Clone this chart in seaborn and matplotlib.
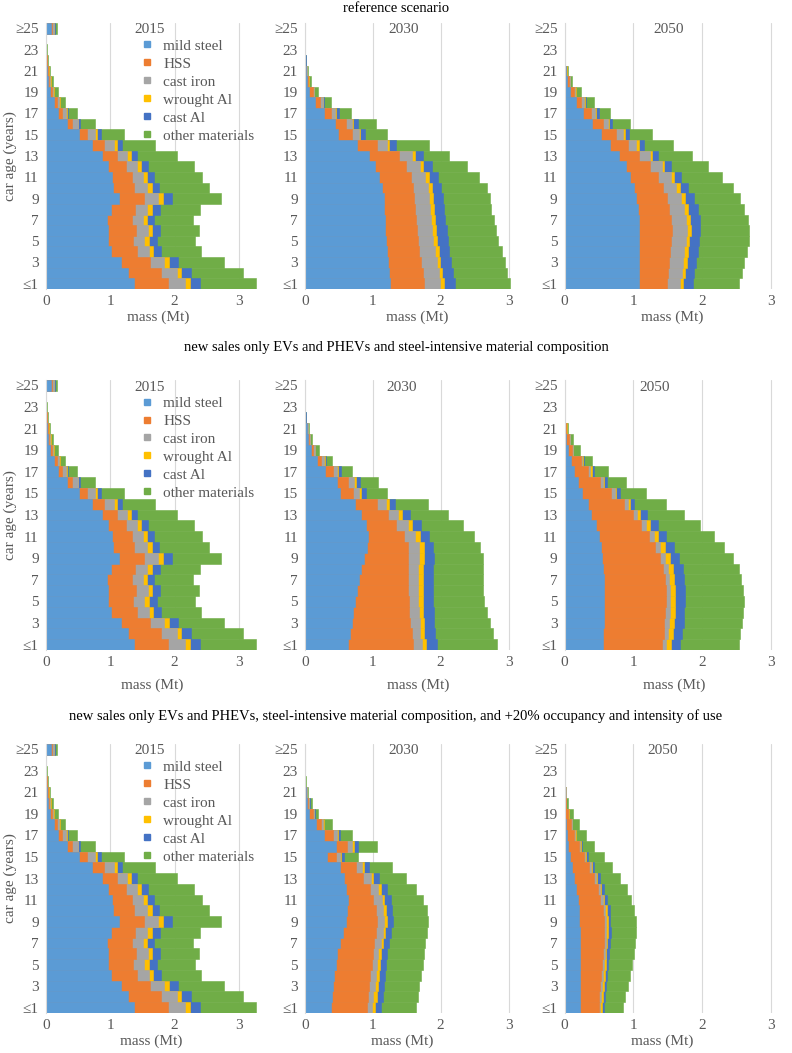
import pandas as pd
import matplotlib
matplotlib.use("Agg")
import matplotlib.pyplot as plt
from matplotlib.lines import Line2D
import seaborn as sns

# car ages, bottom to top
ages = ["≤1"] + [str(a) for a in range(2, 25)] + ["≥25"]
shown_ages = ["≤1"] + [str(a) for a in range(3, 24, 2)] + ["≥25"]

materials = ["mild steel", "HSS", "cast iron", "wrought Al", "cast Al", "other materials"]
colors = ["#5B9BD5", "#ED7D31", "#A5A5A5", "#FFC000", "#4472C4", "#70AD47"]

row_titles = [
    "reference scenario",
    "new sales only EVs and PHEVs and steel-intensive material composition",
    "new sales only EVs and PHEVs, steel-intensive material composition, and +20% occupancy and intensity of use",
]
years = ["2015", "2030", "2050"]

# cumulative mass (Mt) at the right edge of each material, age ≤1 ... ≥25
stock_2015 = [
    [1.376, 1.904, 2.162, 2.240, 2.395, 3.264],
    [1.283, 1.790, 2.033, 2.106, 2.256, 3.057],
    [1.164, 1.619, 1.842, 1.919, 2.049, 2.768],
    [1.014, 1.412, 1.604, 1.671, 1.790, 2.411],
    [0.973, 1.361, 1.531, 1.604, 1.723, 2.318],
    [0.973, 1.402, 1.583, 1.655, 1.774, 2.385],
    [0.947, 1.335, 1.516, 1.578, 1.687, 2.282],
    [1.009, 1.386, 1.568, 1.645, 1.774, 2.395],
    [1.138, 1.526, 1.738, 1.826, 1.966, 2.716],
    [1.050, 1.376, 1.568, 1.645, 1.764, 2.535],
    [1.035, 1.335, 1.505, 1.568, 1.681, 2.431],
    [0.973, 1.247, 1.423, 1.480, 1.593, 2.307],
    [0.869, 1.102, 1.267, 1.319, 1.412, 2.033],
    [0.724, 0.910, 1.066, 1.102, 1.180, 1.697],
    [0.517, 0.647, 0.766, 0.802, 0.854, 1.216],
    [0.326, 0.414, 0.497, 0.507, 0.533, 0.766],
    [0.197, 0.259, 0.316, 0.326, 0.341, 0.491],
    [0.135, 0.181, 0.212, 0.217, 0.228, 0.300],
    [0.067, 0.093, 0.119, 0.124, 0.129, 0.197],
    [0.041, 0.057, 0.072, 0.078, 0.083, 0.119],
    [0.021, 0.031, 0.041, 0.044, 0.047, 0.067],
    [0.010, 0.016, 0.021, 0.022, 0.024, 0.036],
    [0.005, 0.008, 0.010, 0.011, 0.012, 0.020],
    [0.003, 0.004, 0.005, 0.005, 0.006, 0.010],
    [0.078, 0.093, 0.129, 0.134, 0.140, 0.171],
]

ref_2030 = [
    [1.257, 1.758, 1.993, 2.042, 2.214, 3.019],
    [1.232, 1.733, 1.969, 2.018, 2.175, 2.985],
    [1.217, 1.708, 1.939, 1.993, 2.150, 2.950],
    [1.203, 1.684, 1.915, 1.969, 2.126, 2.901],
    [1.193, 1.659, 1.890, 1.944, 2.101, 2.852],
    [1.183, 1.645, 1.870, 1.929, 2.086, 2.813],
    [1.178, 1.635, 1.856, 1.915, 2.067, 2.779],
    [1.168, 1.620, 1.841, 1.895, 2.052, 2.749],
    [1.159, 1.610, 1.821, 1.880, 2.028, 2.730],
    [1.134, 1.596, 1.807, 1.866, 2.003, 2.690],
    [1.085, 1.561, 1.772, 1.821, 1.954, 2.568],
    [1.036, 1.487, 1.694, 1.743, 1.870, 2.381],
    [0.947, 1.389, 1.576, 1.625, 1.743, 2.126],
    [0.761, 1.056, 1.208, 1.242, 1.340, 1.821],
    [0.491, 0.692, 0.790, 0.815, 0.889, 1.203],
    [0.447, 0.604, 0.687, 0.712, 0.776, 1.046],
    [0.275, 0.383, 0.447, 0.461, 0.506, 0.677],
    [0.147, 0.226, 0.260, 0.270, 0.285, 0.383],
    [0.064, 0.113, 0.128, 0.133, 0.137, 0.187],
    [0.025, 0.039, 0.049, 0.052, 0.054, 0.088],
    [0.010, 0.020, 0.025, 0.029, 0.032, 0.039],
    [0.003, 0.005, 0.006, 0.007, 0.008, 0.012],
    [0, 0, 0, 0, 0, 0],
    [0, 0, 0, 0, 0, 0],
    [0, 0, 0, 0, 0, 0],
]

ref_2050 = [
    [1.079, 1.483, 1.677, 1.726, 1.862, 2.538],
    [1.084, 1.497, 1.701, 1.750, 1.881, 2.577],
    [1.084, 1.517, 1.726, 1.774, 1.911, 2.611],
    [1.084, 1.531, 1.740, 1.789, 1.935, 2.650],
    [1.084, 1.541, 1.760, 1.808, 1.954, 2.674],
    [1.079, 1.556, 1.774, 1.833, 1.969, 2.684],
    [1.079, 1.541, 1.760, 1.823, 1.969, 2.664],
    [1.070, 1.522, 1.736, 1.799, 1.935, 2.611],
    [1.045, 1.483, 1.692, 1.750, 1.881, 2.552],
    [1.006, 1.434, 1.619, 1.677, 1.799, 2.441],
    [0.948, 1.351, 1.541, 1.595, 1.692, 2.285],
    [0.890, 1.240, 1.410, 1.449, 1.541, 2.090],
    [0.788, 1.079, 1.240, 1.274, 1.351, 1.847],
    [0.666, 0.924, 1.045, 1.079, 1.157, 1.570],
    [0.535, 0.744, 0.851, 0.875, 0.933, 1.264],
    [0.404, 0.559, 0.632, 0.647, 0.695, 0.948],
    [0.267, 0.389, 0.438, 0.452, 0.496, 0.666],
    [0.160, 0.243, 0.282, 0.292, 0.306, 0.423],
    [0.083, 0.136, 0.156, 0.160, 0.170, 0.243],
    [0.034, 0.063, 0.073, 0.075, 0.078, 0.112],
    [0.015, 0.024, 0.029, 0.032, 0.034, 0.049],
    [0.003, 0.005, 0.006, 0.007, 0.008, 0.012],
    [0, 0, 0, 0, 0, 0],
    [0, 0, 0, 0, 0, 0],
    [0, 0, 0, 0, 0, 0],
]

ev_2030 = [
    [0.637, 1.593, 1.725, 1.784, 1.946, 2.828],
    [0.662, 1.578, 1.701, 1.760, 1.922, 2.770],
    [0.686, 1.554, 1.691, 1.750, 1.907, 2.721],
    [0.711, 1.539, 1.676, 1.740, 1.897, 2.681],
    [0.735, 1.529, 1.667, 1.735, 1.887, 2.642],
    [0.770, 1.520, 1.667, 1.735, 1.887, 2.623],
    [0.794, 1.515, 1.662, 1.735, 1.887, 2.618],
    [0.828, 1.515, 1.667, 1.740, 1.887, 2.618],
    [0.868, 1.520, 1.676, 1.750, 1.897, 2.623],
    [0.907, 1.515, 1.676, 1.750, 1.887, 2.574],
    [0.926, 1.456, 1.627, 1.701, 1.824, 2.485],
    [0.892, 1.348, 1.515, 1.578, 1.711, 2.328],
    [0.819, 1.225, 1.373, 1.431, 1.544, 2.103],
    [0.735, 1.064, 1.196, 1.245, 1.333, 1.809],
    [0.510, 0.706, 0.794, 0.819, 0.902, 1.211],
    [0.466, 0.632, 0.721, 0.745, 0.804, 1.078],
    [0.294, 0.417, 0.466, 0.485, 0.525, 0.696],
    [0.172, 0.240, 0.279, 0.289, 0.304, 0.402],
    [0.083, 0.118, 0.142, 0.147, 0.152, 0.206],
    [0.039, 0.059, 0.069, 0.074, 0.078, 0.108],
    [0.025, 0.034, 0.039, 0.044, 0.047, 0.059],
    [0.003, 0.005, 0.006, 0.007, 0.008, 0.012],
    [0, 0, 0, 0, 0, 0],
    [0, 0, 0, 0, 0, 0],
    [0, 0, 0, 0, 0, 0],
]

ev_2050 = [
    [0.557, 1.415, 1.473, 1.546, 1.682, 2.530],
    [0.562, 1.440, 1.497, 1.570, 1.706, 2.555],
    [0.567, 1.449, 1.512, 1.585, 1.730, 2.579],
    [0.572, 1.464, 1.527, 1.600, 1.740, 2.594],
    [0.577, 1.473, 1.536, 1.609, 1.755, 2.603],
    [0.577, 1.473, 1.536, 1.609, 1.755, 2.594],
    [0.572, 1.454, 1.522, 1.594, 1.740, 2.564],
    [0.562, 1.430, 1.503, 1.575, 1.721, 2.530],
    [0.548, 1.381, 1.454, 1.527, 1.658, 2.448],
    [0.529, 1.318, 1.391, 1.464, 1.585, 2.322],
    [0.504, 1.222, 1.294, 1.357, 1.479, 2.176],
    [0.460, 1.110, 1.183, 1.245, 1.352, 1.973],
    [0.388, 0.989, 1.052, 1.100, 1.197, 1.740],
    [0.334, 0.858, 0.916, 0.955, 1.013, 1.474],
    [0.252, 0.679, 0.727, 0.751, 0.809, 1.187],
    [0.194, 0.509, 0.553, 0.577, 0.616, 0.897],
    [0.131, 0.339, 0.373, 0.393, 0.426, 0.630],
    [0.092, 0.237, 0.252, 0.262, 0.276, 0.397],
    [0.049, 0.107, 0.121, 0.124, 0.126, 0.228],
    [0.024, 0.068, 0.078, 0.080, 0.082, 0.121],
    [0.010, 0.024, 0.029, 0.031, 0.034, 0.048],
    [0.002, 0.004, 0.005, 0.006, 0.007, 0.010],
    [0, 0, 0, 0, 0, 0],
    [0, 0, 0, 0, 0, 0],
    [0, 0, 0, 0, 0, 0],
]

occ_2030 = [
    [0.379, 0.920, 0.984, 1.033, 1.122, 1.638],
    [0.393, 0.935, 1.008, 1.058, 1.146, 1.663],
    [0.408, 0.949, 1.033, 1.072, 1.166, 1.687],
    [0.428, 0.959, 1.048, 1.092, 1.180, 1.712],
    [0.457, 0.984, 1.068, 1.107, 1.195, 1.736],
    [0.477, 0.999, 1.082, 1.126, 1.215, 1.756],
    [0.517, 1.023, 1.117, 1.156, 1.244, 1.771],
    [0.566, 1.048, 1.146, 1.185, 1.269, 1.795],
    [0.605, 1.058, 1.166, 1.205, 1.294, 1.810],
    [0.625, 1.043, 1.156, 1.195, 1.279, 1.795],
    [0.639, 1.008, 1.131, 1.171, 1.264, 1.746],
    [0.605, 0.959, 1.082, 1.117, 1.205, 1.638],
    [0.576, 0.861, 0.969, 1.008, 1.092, 1.486],
    [0.516, 0.753, 0.836, 0.871, 0.944, 1.289],
    [0.320, 0.457, 0.516, 0.531, 0.580, 0.787],
    [0.457, 0.625, 0.698, 0.723, 0.787, 1.067],
    [0.280, 0.408, 0.467, 0.482, 0.516, 0.698],
    [0.162, 0.236, 0.270, 0.275, 0.285, 0.393],
    [0.059, 0.113, 0.133, 0.138, 0.143, 0.197],
    [0.025, 0.049, 0.059, 0.064, 0.069, 0.098],
    [0.010, 0.020, 0.025, 0.030, 0.032, 0.039],
    [0.002, 0.004, 0.005, 0.006, 0.007, 0.010],
    [0, 0, 0, 0, 0, 0],
    [0, 0, 0, 0, 0, 0],
    [0, 0, 0, 0, 0, 0],
]

occ_2050 = [
    [0.218, 0.494, 0.519, 0.543, 0.577, 0.848],
    [0.218, 0.504, 0.533, 0.558, 0.591, 0.882],
    [0.218, 0.519, 0.548, 0.572, 0.606, 0.916],
    [0.218, 0.528, 0.558, 0.582, 0.620, 0.945],
    [0.218, 0.543, 0.572, 0.596, 0.635, 0.979],
    [0.218, 0.553, 0.582, 0.606, 0.645, 1.003],
    [0.218, 0.567, 0.596, 0.620, 0.659, 1.027],
    [0.218, 0.572, 0.606, 0.630, 0.669, 1.042],
    [0.213, 0.567, 0.601, 0.625, 0.664, 1.037],
    [0.204, 0.557, 0.591, 0.616, 0.654, 1.013],
    [0.189, 0.519, 0.553, 0.577, 0.616, 0.970],
    [0.165, 0.480, 0.509, 0.533, 0.572, 0.906],
    [0.131, 0.422, 0.451, 0.470, 0.509, 0.800],
    [0.107, 0.349, 0.378, 0.397, 0.431, 0.688],
    [0.082, 0.276, 0.301, 0.315, 0.344, 0.567],
    [0.058, 0.204, 0.228, 0.238, 0.257, 0.431],
    [0.034, 0.131, 0.150, 0.160, 0.170, 0.310],
    [0.019, 0.092, 0.107, 0.111, 0.116, 0.204],
    [0.010, 0.048, 0.058, 0.060, 0.063, 0.121],
    [0.005, 0.019, 0.024, 0.027, 0.029, 0.058],
    [0.002, 0.010, 0.015, 0.017, 0.019, 0.024],
    [0.001, 0.002, 0.003, 0.003, 0.004, 0.005],
    [0, 0, 0, 0, 0, 0],
    [0, 0, 0, 0, 0, 0],
    [0, 0, 0, 0, 0, 0],
]

grid_data = [
    [stock_2015, ref_2030, ref_2050],
    [stock_2015, ev_2030, ev_2050],
    [stock_2015, occ_2030, occ_2050],
]

sns.set_style("white")
plt.rcParams["font.family"] = ["Liberation Serif", "DejaVu Serif"]
gray = "#595959"
fs = 11

W, H = 792, 1053
fig = plt.figure(figsize=(W / 100, H / 100), dpi=100)

# layout in pixels
col_left = [45.7, 305, 564.5]
col_right = [270, 527.5, 778]
col_xmax = [3.48, 3.28, 3.1]
row_top = [23, 380, 744]
row_bottom = [289, 650, 1013]
title_y = [9, 348, 716]
year_x = [[1.62, 1.46, 1.51], [1.62, 1.42, 1.31], [1.62, 1.45, 1.43]]
xlabel_px = [[158, 417, 672], [152, 418, 674], [151, 402, 662]]
xlabel_y = [317, 685, 1041]

for r in range(3):
    fig.text(0.5, 1 - title_y[r] / H, row_titles[r], ha="center", va="center",
             fontsize=10.5, color="black")
    for c in range(3):
        l, rr = col_left[c], col_right[c]
        t, b = row_top[r], row_bottom[r]
        ax = fig.add_axes([l / W, 1 - b / H, (rr - l) / W, (b - t) / H])

        df = pd.DataFrame(grid_data[r][c], columns=materials)
        df["age"] = ages
        # overlapping cumulative bars give the stacked look
        for mat, col in reversed(list(zip(materials, colors))):
            sns.barplot(data=df, x=mat, y="age", order=ages[::-1], orient="h",
                        color=col, saturation=1, width=1, errorbar=None,
                        linewidth=0.4, edgecolor=col, ax=ax)

        ax.set_xlim(0, col_xmax[c])
        ax.set_xticks([0, 1, 2, 3])
        ax.set_yticks([ages[::-1].index(a) for a in shown_ages])
        ax.set_yticklabels(shown_ages)
        ax.tick_params(length=0, labelcolor=gray, labelsize=fs)
        ax.tick_params(axis="y", pad=5)
        ax.tick_params(axis="x", pad=4)
        ax.xaxis.grid(True, color="#D9D9D9", lw=0.8)
        ax.set_axisbelow(True)
        for side in ["top", "right", "bottom"]:
            ax.spines[side].set_visible(False)
        ax.spines["left"].set_color("#D9D9D9")
        ax.spines["left"].set_linewidth(0.8)

        ax.set_xlabel("mass (Mt)", color=gray, fontsize=fs, va="center")
        ax.xaxis.set_label_coords((xlabel_px[r][c] - l) / (rr - l),
                                  (b - xlabel_y[r]) / (b - t))
        if c == 0:
            ax.set_ylabel("car age (years)", color=gray, fontsize=fs, va="center")
            ax.yaxis.set_label_coords((10 - l) / (rr - l), 0.5)
            handles = [Line2D([], [], marker="s", ls="", color=col, markersize=5)
                       for col in colors]
            ax.legend(handles, materials, loc="upper left", bbox_to_anchor=(0.425, 0.94),
                      frameon=False, fontsize=fs, labelcolor=gray, handlelength=0.8,
                      handletextpad=0.65, labelspacing=0.28, borderpad=0, borderaxespad=0)
        else:
            ax.set_ylabel("")

        ax.text(year_x[r][c], 0.974, years[c], transform=ax.get_xaxis_transform(),
                ha="center", va="center", color=gray, fontsize=fs)

fig.savefig("out.png", dpi=100)
